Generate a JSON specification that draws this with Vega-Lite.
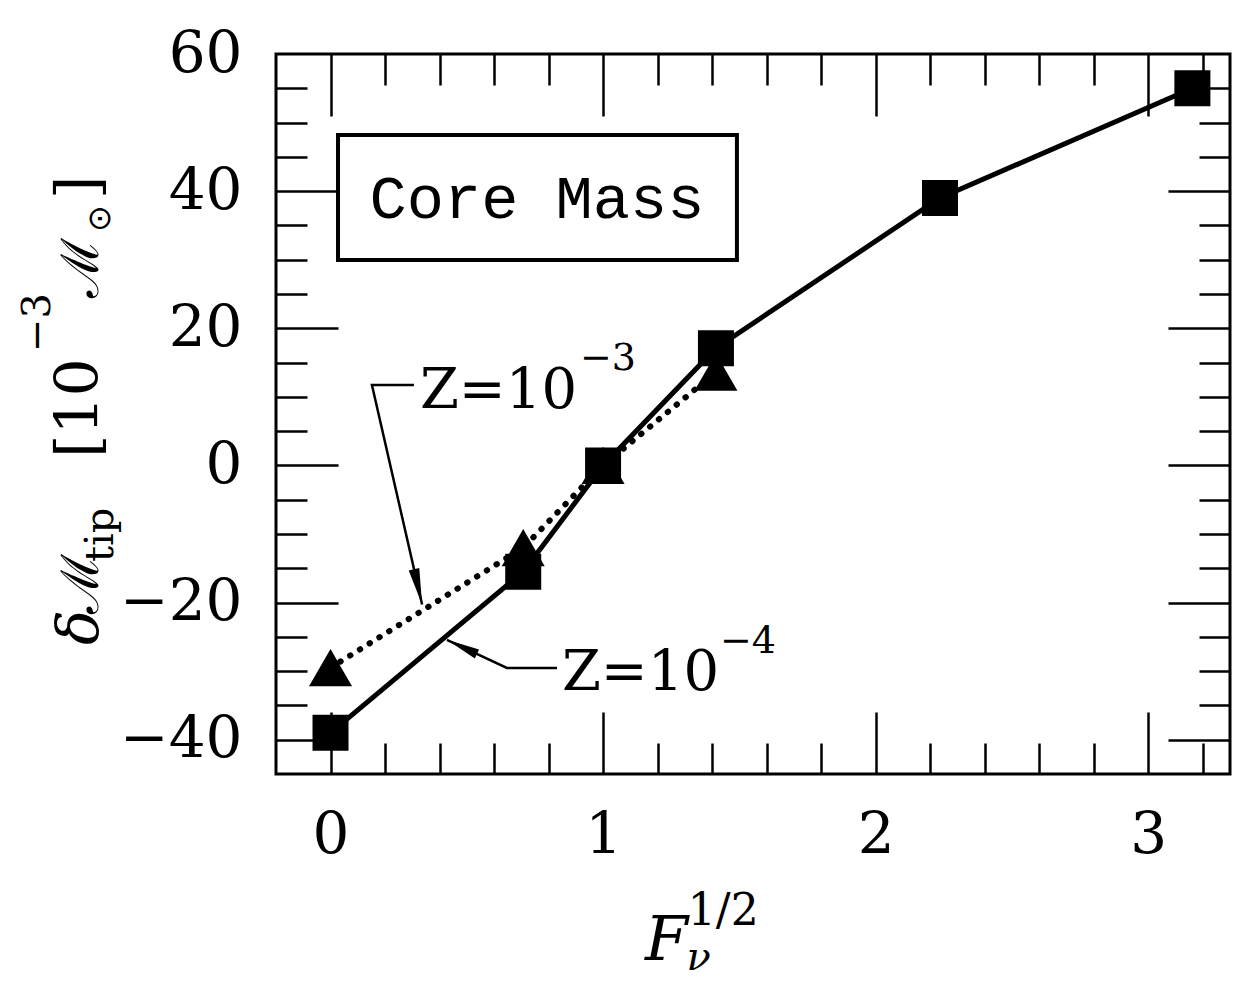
{
  "$schema": "https://vega.github.io/schema/vega-lite/v6.json",
  "width": 954,
  "height": 720,
  "autosize": {"type": "none"},
  "padding": {"left": 276, "top": 54, "right": 9, "bottom": 210},
  "background": "white",
  "config": {
    "view": {"stroke": "black", "strokeWidth": 3},
    "axis": {
      "grid": false,
      "domain": false,
      "title": null,
      "tickColor": "black",
      "tickWidth": 2.5,
      "labelColor": "black",
      "labelFont": "DejaVu Serif",
      "labelFontSize": 58,
      "labelFlush": false,
      "labelOverlap": false
    }
  },
  "datasets": {
    "series": [
      {"sqrtF": 0, "dM": -29.5, "Z": "1e-3"},
      {"sqrtF": 0.707, "dM": -12.0, "Z": "1e-3"},
      {"sqrtF": 1, "dM": 0, "Z": "1e-3"},
      {"sqrtF": 1.414, "dM": 13.6, "Z": "1e-3"},
      {"sqrtF": 0, "dM": -39.0, "Z": "1e-4"},
      {"sqrtF": 0.707, "dM": -15.5, "Z": "1e-4"},
      {"sqrtF": 1, "dM": 0, "Z": "1e-4"},
      {"sqrtF": 1.414, "dM": 17.1, "Z": "1e-4"},
      {"sqrtF": 2.236, "dM": 39.0, "Z": "1e-4"},
      {"sqrtF": 3.162, "dM": 55.0, "Z": "1e-4"}
    ],
    "leaders": [
      {"id": "z3", "ord": 0, "x": 0.306, "y": 11.73},
      {"id": "z3", "ord": 1, "x": 0.152, "y": 11.73},
      {"id": "z3", "ord": 2, "x": 0.336, "y": -20.27},
      {"id": "z4", "ord": 0, "x": 0.831, "y": -29.53},
      {"id": "z4", "ord": 1, "x": 0.647, "y": -29.53},
      {"id": "z4", "ord": 2, "x": 0.427, "y": -25.44}
    ],
    "box": [
      {"x": 0.0275, "x2": 1.491, "y": 48.18, "y2": 29.95}
    ],
    "notes": [
      {"role": "z", "x": 0.328, "y": 8.37, "label": "Z=10"},
      {"role": "z", "x": 0.849, "y": -32.74, "label": "Z=10"},
      {"role": "zexp", "x": 0.915, "y": 13.92, "label": "−3"},
      {"role": "zexp", "x": 1.429, "y": -27.36, "label": "−4"},
      {"role": "box", "x": 0.7575, "y": 36.08, "label": "Core Mass"},
      {"role": "xF", "x": 1.154, "y": -72.13, "label": "F"},
      {"role": "xsub", "x": 1.306, "y": -73.6, "label": "ν"},
      {"role": "xsup", "x": 1.311, "y": -67.03, "label": "1/2"},
      {"role": "ydelta", "x": -0.853, "y": -26.19, "label": "δ"},
      {"role": "yM", "x": -0.853, "y": -21.6, "label": "ℳ"},
      {"role": "ymain", "x": -0.853, "y": 1.08, "label": "[10"},
      {"role": "yM", "x": -0.853, "y": 24.41, "label": "ℳ"},
      {"role": "ymain", "x": -0.853, "y": 38.85, "label": "]"},
      {"role": "ysmall", "x": -0.798, "y": -14.09, "label": "tip"},
      {"role": "ysmall", "x": -1.029, "y": 16.54, "label": "−3"},
      {"role": "ysun", "x": -0.809, "y": 34.04, "label": "⊙"}
    ]
  },
  "resolve": {"axis": {"x": "independent", "y": "independent"}},
  "layer": [
    {
      "data": {"name": "box"},
      "mark": {"type": "rect", "fill": "white", "stroke": "black", "strokeWidth": 4},
      "encoding": {
        "x": {"field": "x", "type": "quantitative", "scale": {"domain": [-0.2, 3.3], "nice": false, "zero": false},
              "axis": {"orient": "bottom", "values": [0, 1, 2, 3], "ticks": false, "labels": true, "labelPadding": 32, "format": ".0f"}},
        "x2": {"field": "x2"},
        "y": {"field": "y", "type": "quantitative", "scale": {"domain": [-45, 60], "nice": false, "zero": false},
              "axis": {"orient": "left", "values": [-40, -20, 0, 20, 40, 60], "ticks": false, "labels": true, "labelPadding": 34, "format": ".0f"}},
        "y2": {"field": "y2"}
      }
    },
    {
      "data": {"name": "series"},
      "transform": [{"filter": "datum.Z === '1e-3'"}],
      "mark": {"type": "line", "color": "black", "strokeWidth": 6, "strokeDash": [0.5, 11], "strokeCap": "round"},
      "encoding": {
        "x": {"field": "sqrtF", "type": "quantitative",
              "axis": {"orient": "bottom", "values": [0, 1, 2, 3], "labels": false, "tickSize": -62}},
        "y": {"field": "dM", "type": "quantitative",
              "axis": {"orient": "left", "values": [-40, -20, 0, 20, 40], "labels": false, "tickSize": -62}}
      }
    },
    {
      "data": {"name": "series"},
      "transform": [{"filter": "datum.Z === '1e-4'"}],
      "mark": {"type": "line", "color": "black", "strokeWidth": 5},
      "encoding": {
        "x": {"field": "sqrtF", "type": "quantitative",
              "axis": {"orient": "bottom", "values": [0.2, 0.4, 0.6, 0.8, 1.2, 1.4, 1.6, 1.8, 2.2, 2.4, 2.6, 2.8, 3.2], "labels": false, "tickSize": -31}},
        "y": {"field": "dM", "type": "quantitative",
              "axis": {"orient": "left", "values": [-35, -30, -25, -15, -10, -5, 5, 10, 15, 25, 30, 35, 45, 50, 55], "labels": false, "tickSize": -31}}
      }
    },
    {
      "data": {"name": "series"},
      "transform": [{"filter": "datum.Z === '1e-3'"}],
      "mark": {"type": "point", "shape": "triangle-up", "size": 1850, "filled": true, "color": "black", "opacity": 1},
      "encoding": {
        "x": {"field": "sqrtF", "type": "quantitative",
              "axis": {"orient": "top", "values": [0, 1, 2, 3], "labels": false, "tickSize": -62}},
        "y": {"field": "dM", "type": "quantitative",
              "axis": {"orient": "right", "values": [-40, -20, 0, 20, 40], "labels": false, "tickSize": -62}}
      }
    },
    {
      "data": {"name": "series"},
      "transform": [{"filter": "datum.Z === '1e-4'"}],
      "mark": {"type": "point", "shape": "square", "size": 1296, "filled": true, "color": "black", "opacity": 1},
      "encoding": {
        "x": {"field": "sqrtF", "type": "quantitative",
              "axis": {"orient": "top", "values": [0.2, 0.4, 0.6, 0.8, 1.2, 1.4, 1.6, 1.8, 2.2, 2.4, 2.6, 2.8, 3.2], "labels": false, "tickSize": -31}},
        "y": {"field": "dM", "type": "quantitative",
              "axis": {"orient": "right", "values": [-35, -30, -25, -15, -10, -5, 5, 10, 15, 25, 30, 35, 45, 50, 55], "labels": false, "tickSize": -31}}
      }
    },
    {
      "data": {"name": "leaders"},
      "mark": {"type": "line", "color": "black", "strokeWidth": 2.5},
      "encoding": {
        "x": {"field": "x", "type": "quantitative", "axis": null},
        "y": {"field": "y", "type": "quantitative", "axis": null},
        "detail": {"field": "id"},
        "order": {"field": "ord"}
      }
    },
    {
      "data": {"name": "leaders"},
      "transform": [{"filter": "datum.id === 'z3' && datum.ord === 2"}],
      "mark": {"type": "point", "shape": "M0,0L-0.3,-2L0.3,-2Z", "size": 1300, "angle": 347, "filled": true, "color": "black", "opacity": 1},
      "encoding": {
        "x": {"field": "x", "type": "quantitative", "axis": null},
        "y": {"field": "y", "type": "quantitative", "axis": null}
      }
    },
    {
      "data": {"name": "leaders"},
      "transform": [{"filter": "datum.id === 'z4' && datum.ord === 2"}],
      "mark": {"type": "point", "shape": "M0,0L-0.3,-2L0.3,-2Z", "size": 1100, "angle": 115, "filled": true, "color": "black", "opacity": 1},
      "encoding": {
        "x": {"field": "x", "type": "quantitative", "axis": null},
        "y": {"field": "y", "type": "quantitative", "axis": null}
      }
    },
    {
      "data": {"name": "notes"},
      "transform": [{"filter": "datum.role === 'z'"}],
      "mark": {"type": "text", "font": "DejaVu Serif", "fontSize": 56, "align": "left", "baseline": "alphabetic", "color": "black"},
      "encoding": {
        "x": {"field": "x", "type": "quantitative", "axis": null},
        "y": {"field": "y", "type": "quantitative", "axis": null},
        "text": {"field": "label"}
      }
    },
    {
      "data": {"name": "notes"},
      "transform": [{"filter": "datum.role === 'zexp'"}],
      "mark": {"type": "text", "font": "DejaVu Serif", "fontSize": 38, "align": "left", "baseline": "alphabetic", "color": "black"},
      "encoding": {
        "x": {"field": "x", "type": "quantitative", "axis": null},
        "y": {"field": "y", "type": "quantitative", "axis": null},
        "text": {"field": "label"}
      }
    },
    {
      "data": {"name": "notes"},
      "transform": [{"filter": "datum.role === 'box'"}],
      "mark": {"type": "text", "font": "Liberation Mono", "fontSize": 62, "align": "center", "baseline": "alphabetic", "color": "black"},
      "encoding": {
        "x": {"field": "x", "type": "quantitative", "axis": null},
        "y": {"field": "y", "type": "quantitative", "axis": null},
        "text": {"field": "label"}
      }
    },
    {
      "data": {"name": "notes"},
      "transform": [{"filter": "datum.role === 'xF'"}],
      "mark": {"type": "text", "font": "DejaVu Serif", "fontStyle": "italic", "fontSize": 62, "align": "left", "baseline": "alphabetic", "color": "black"},
      "encoding": {
        "x": {"field": "x", "type": "quantitative", "axis": null},
        "y": {"field": "y", "type": "quantitative", "axis": null},
        "text": {"field": "label"}
      }
    },
    {
      "data": {"name": "notes"},
      "transform": [{"filter": "datum.role === 'xsub'"}],
      "mark": {"type": "text", "font": "DejaVu Serif", "fontStyle": "italic", "fontSize": 40, "align": "left", "baseline": "alphabetic", "color": "black"},
      "encoding": {
        "x": {"field": "x", "type": "quantitative", "axis": null},
        "y": {"field": "y", "type": "quantitative", "axis": null},
        "text": {"field": "label"}
      }
    },
    {
      "data": {"name": "notes"},
      "transform": [{"filter": "datum.role === 'xsup'"}],
      "mark": {"type": "text", "font": "DejaVu Serif", "fontSize": 44, "align": "left", "baseline": "alphabetic", "color": "black"},
      "encoding": {
        "x": {"field": "x", "type": "quantitative", "axis": null},
        "y": {"field": "y", "type": "quantitative", "axis": null},
        "text": {"field": "label"}
      }
    },
    {
      "data": {"name": "notes"},
      "transform": [{"filter": "datum.role === 'ydelta'"}],
      "mark": {"type": "text", "font": "DejaVu Serif", "fontStyle": "italic", "fontSize": 58, "angle": 270, "align": "left", "baseline": "alphabetic", "color": "black"},
      "encoding": {
        "x": {"field": "x", "type": "quantitative", "axis": null},
        "y": {"field": "y", "type": "quantitative", "axis": null},
        "text": {"field": "label"}
      }
    },
    {
      "data": {"name": "notes"},
      "transform": [{"filter": "datum.role === 'yM'"}],
      "mark": {"type": "text", "font": "DejaVu Serif", "fontSize": 52, "angle": 270, "align": "left", "baseline": "alphabetic", "color": "black"},
      "encoding": {
        "x": {"field": "x", "type": "quantitative", "axis": null},
        "y": {"field": "y", "type": "quantitative", "axis": null},
        "text": {"field": "label"}
      }
    },
    {
      "data": {"name": "notes"},
      "transform": [{"filter": "datum.role === 'ymain'"}],
      "mark": {"type": "text", "font": "DejaVu Serif", "fontSize": 60, "angle": 270, "align": "left", "baseline": "alphabetic", "color": "black"},
      "encoding": {
        "x": {"field": "x", "type": "quantitative", "axis": null},
        "y": {"field": "y", "type": "quantitative", "axis": null},
        "text": {"field": "label"}
      }
    },
    {
      "data": {"name": "notes"},
      "transform": [{"filter": "datum.role === 'ysmall'"}],
      "mark": {"type": "text", "font": "DejaVu Serif", "fontSize": 40, "angle": 270, "align": "left", "baseline": "alphabetic", "color": "black"},
      "encoding": {
        "x": {"field": "x", "type": "quantitative", "axis": null},
        "y": {"field": "y", "type": "quantitative", "axis": null},
        "text": {"field": "label"}
      }
    },
    {
      "data": {"name": "notes"},
      "transform": [{"filter": "datum.role === 'ysun'"}],
      "mark": {"type": "text", "font": "DejaVu Sans", "fontSize": 32, "angle": 270, "align": "left", "baseline": "alphabetic", "color": "black"},
      "encoding": {
        "x": {"field": "x", "type": "quantitative", "axis": null},
        "y": {"field": "y", "type": "quantitative", "axis": null},
        "text": {"field": "label"}
      }
    }
  ]
}
